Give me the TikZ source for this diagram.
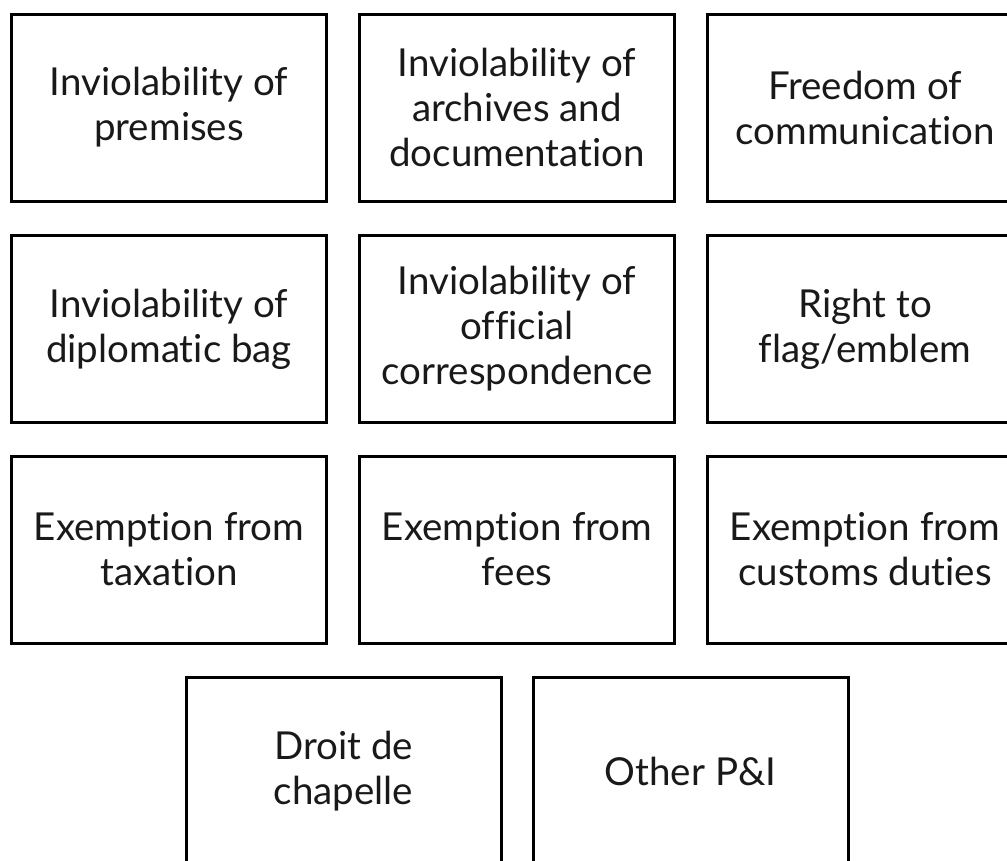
\documentclass[tikz,border=0pt]{standalone}
\usepackage{fontspec}
\setmainfont[Ligatures={NoCommon,NoRare,NoDiscretionary},Contextuals=NoAlternate]{Lato}
\begin{document}
\begin{tikzpicture}[x=1pt,y=-1pt,
  box/.style={draw=black,line width=3pt,rectangle,minimum width=315pt,minimum height=187pt,inner sep=0pt,align=center,font=\fontsize{38.5}{45}\selectfont,text=black!90}]
\useasboundingbox (0,0) rectangle (1007,860);
\clip (0,0) rectangle (1007,860);
\node[box] (a1) at (169,107.5) {Inviolability of\\premises};
\node[box] (a2) at (517,107.5) {Inviolability of\\archives and\\documentation};
\node[box] (a3) at (865,107.5) {Freedom of\\communication};
\node[box] (b1) at (169,329) {Inviolability of\\diplomatic bag};
\node[box] (b2) at (517,329) {Inviolability of\\official\\correspondence};
\node[box] (b3) at (865,329) {Right to\\flag/emblem};
\node[box] (c1) at (169,549.5) {Exemption from\\taxation};
\node[box] (c2) at (517,549.5) {Exemption from\\fees};
\node[box] (c3) at (865,549.5) {Exemption from\\customs duties};
\node[box] (d1) at (343.5,771) {Droit de\\chapelle};
\node[box] (d2) at (690.5,771) {Other P\&I};
\end{tikzpicture}
\end{document}
